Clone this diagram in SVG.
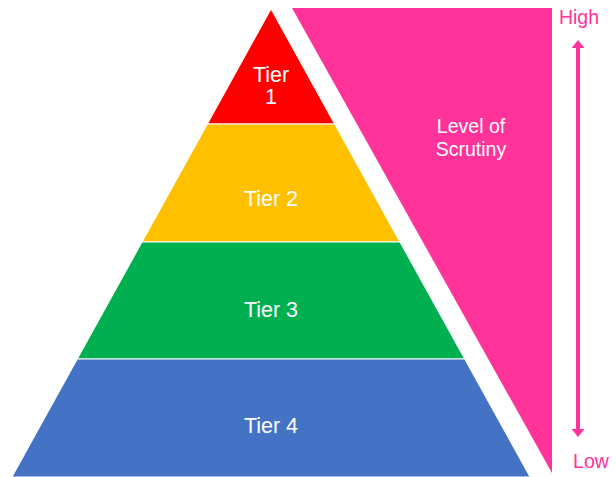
<svg xmlns="http://www.w3.org/2000/svg" width="616" height="477" viewBox="0 0 616 477">
  <style>
    .band { stroke: #FFFFFF; stroke-width: 1; }
    .lbl { font-family: "Liberation Sans", Arial, sans-serif; fill: #FFFFFF; text-anchor: middle; }
    .tier { font-size: 21.5px; }
    .side { font-size: 19.5px; }
    .pinkText { font-family: "Liberation Sans", Arial, sans-serif; fill: #FF3399; font-size: 19.5px; text-anchor: middle; }
  </style>
  <defs>
    <marker id="ah" viewBox="0 0 8 13" refX="1" refY="6.5" markerWidth="2" markerHeight="3.25" orient="auto-start-reverse" markerUnits="strokeWidth">
      <path d="M0,0 L8,6.5 L0,13 Z" fill="#FF3399"/>
    </marker>
  </defs>
  <rect width="616" height="477" fill="#FFFFFF"/>
  <g id="tier1">
    <polygon class="band" points="271,9 334.6,124 207.4,124" fill="#FF0000"/>
    <text class="lbl tier" x="271" y="82">Tier</text>
    <text class="lbl tier" x="271" y="104">1</text>
  </g>
  <g id="tier2">
    <polygon class="band" points="207.4,124 334.6,124 399.9,242 142.1,242" fill="#FFC000"/>
    <text class="lbl tier" x="271" y="206">Tier 2</text>
  </g>
  <g id="tier3">
    <polygon class="band" points="142.1,242 399.9,242 464.7,359 77.3,359" fill="#00B050"/>
    <text class="lbl tier" x="271" y="317">Tier 3</text>
  </g>
  <g id="tier4">
    <polygon class="band" points="77.3,359 464.7,359 530,477 12,477" fill="#4472C4"/>
    <text class="lbl tier" x="271" y="433">Tier 4</text>
  </g>
  <g id="scrutiny">
    <polygon points="292,8 552,8 552,473" fill="#FF3399"/>
    <text class="lbl side" x="471" y="133">Level of</text>
    <text class="lbl side" x="471" y="156">Scrutiny</text>
  </g>
  <g id="high">
    <text class="pinkText" x="579" y="24">High</text>
  </g>
  <g id="low">
    <text class="pinkText" x="591" y="468">Low</text>
  </g>
  <g id="connectors">
    <line x1="578" y1="47" x2="578" y2="430" stroke="#FF3399" stroke-width="4" marker-start="url(#ah)" marker-end="url(#ah)"/>
  </g>
</svg>
